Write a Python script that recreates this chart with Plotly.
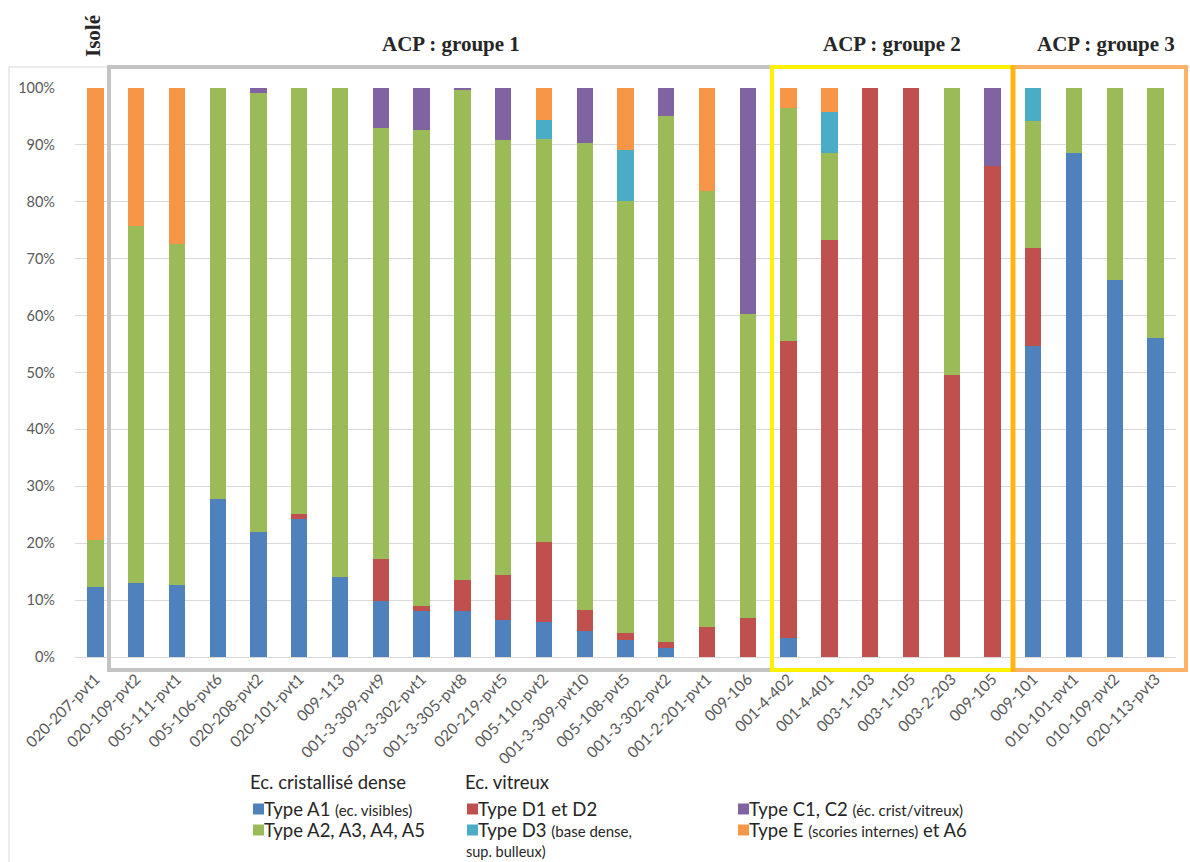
import plotly.graph_objects as go

# ---------------- data ----------------
categories = ["020-207-pvt1", "020-109-pvt2", "005-111-pvt1", "005-106-pvt6", "020-208-pvt2",
              "020-101-pvt1", "009-113", "001-3-309-pvt9", "001-3-302-pvt1", "001-3-305-pvt8",
              "020-219-pvt5", "005-110-pvt2", "001-3-309-pvt10", "005-108-pvt5", "001-3-302-pvt2",
              "001-2-201-pvt1", "009-106", "001-4-402", "001-4-401", "003-1-103", "003-1-105",
              "003-2-203", "009-105", "009-101", "010-101-pvt1", "010-109-pvt2", "020-113-pvt3"]

type_a1 = [12.3, 13.0, 12.7, 27.8, 22.0, 24.2, 14.0, 9.9, 8.1, 8.1, 6.5, 6.1, 4.5, 3.0, 1.6, 0, 0,
           3.4, 0, 0, 0, 0, 0, 54.6, 88.5, 66.2, 56.1]
type_d1_d2 = [0, 0, 0, 0, 0, 1.0, 0, 7.4, 0.9, 5.5, 7.9, 14.1, 3.8, 1.3, 1.1, 5.3, 6.8,
              52.2, 73.3, 100, 100, 49.6, 86.3, 17.3, 0, 0, 0]
type_a2_a5 = [8.2, 62.8, 59.8, 72.2, 77.1, 74.8, 86.0, 75.7, 83.6, 86.0, 76.4, 70.8, 82.1, 75.9, 92.4,
              76.6, 53.4, 40.9, 15.3, 0, 0, 50.4, 0, 22.3, 11.5, 33.8, 43.9]
type_d3 = [0, 0, 0, 0, 0, 0, 0, 0, 0, 0, 0, 3.3, 0, 8.9, 0, 0, 0, 0, 7.1, 0, 0, 0, 0, 5.8, 0, 0, 0]
type_c1_c2 = [0, 0, 0, 0, 0.9, 0, 0, 7.0, 7.4, 0.4, 9.2, 0, 9.6, 0, 4.9, 0, 39.8, 0, 0, 0, 0, 0,
              13.7, 0, 0, 0, 0]
type_e_a6 = [79.5, 24.2, 27.5, 0, 0, 0, 0, 0, 0, 0, 0, 5.7, 0, 10.9, 0, 18.1, 0, 3.5, 4.3, 0, 0, 0,
             0, 0, 0, 0, 0]

y_ticks = [0, 10, 20, 30, 40, 50, 60, 70, 80, 90, 100]

series = [
    ("Type A1", type_a1, "#4F81BD"),
    ("Type D1 et D2", type_d1_d2, "#C0504D"),
    ("Type A2, A3, A4, A5", type_a2_a5, "#9BBB59"),
    ("Type D3", type_d3, "#4BACC6"),
    ("Type C1, C2", type_c1_c2, "#8064A2"),
    ("Type E et A6", type_e_a6, "#F79646"),
]

# ---------------- layout geometry (page pixels) ----------------
W, H = 1190, 862
PL, PR, PT, PB = 75, 1176, 88, 657  # plot area


def X(px):
    return (px - PL) / (PR - PL)


def Y(py):
    return (PB - py) / (PB - PT)


fig = go.Figure()
for name, vals, col in series:
    fig.add_trace(go.Bar(x=categories, y=vals, name=name, marker=dict(color=col, line=dict(width=0)),
                         showlegend=False, hoverinfo="skip"))

shapes = []
# outer chart frame
shapes.append(dict(type="rect", xref="paper", yref="paper", x0=X(9), x1=X(1300), y0=Y(950), y1=Y(67),
                   line=dict(color="#D9D9D9", width=1), layer="below"))
# group boxes
shapes.append(dict(type="rect", xref="paper", yref="paper", x0=X(109), x1=X(772), y0=Y(670), y1=Y(67),
                   line=dict(color="#C4C4C4", width=4)))
shapes.append(dict(type="rect", xref="paper", yref="paper", x0=X(772), x1=X(1013), y0=Y(670), y1=Y(67),
                   line=dict(color="#FFF200", width=4)))
shapes.append(dict(type="rect", xref="paper", yref="paper", x0=X(1013), x1=X(1186), y0=Y(670), y1=Y(67),
                   line=dict(color="#FBB266", width=4)))
shapes.append(dict(type="line", xref="paper", yref="paper", x0=X(1013), x1=X(1013), y0=Y(672), y1=Y(65),
                   line=dict(color="#FDB515", width=5)))

annotations = []
title_font = dict(family="Liberation Serif", size=21, color="#262626")
annotations.append(dict(xref="paper", yref="paper", x=X(451), y=Y(44), text="<b>ACP : groupe 1</b>",
                        showarrow=False, font=title_font, xanchor="center", yanchor="middle"))
annotations.append(dict(xref="paper", yref="paper", x=X(892), y=Y(44), text="<b>ACP : groupe 2</b>",
                        showarrow=False, font=title_font, xanchor="center", yanchor="middle"))
annotations.append(dict(xref="paper", yref="paper", x=X(1106), y=Y(44), text="<b>ACP : groupe 3</b>",
                        showarrow=False, font=title_font, xanchor="center", yanchor="middle"))
annotations.append(dict(xref="paper", yref="paper", x=X(93), y=Y(36), text="<b>Isolé</b>", textangle=-90,
                        showarrow=False, font=title_font, xanchor="center", yanchor="middle"))

# ---------------- manual legend ----------------
LF = "Lato"
big = 18.5
small = 15
txt_col = "#262626"


def leg_text(px, py, text, size=big):
    annotations.append(dict(xref="paper", yref="paper", x=X(px), y=Y(py), text=text, showarrow=False,
                            xanchor="left", yanchor="middle", align="left", borderpad=0, borderwidth=0,
                            font=dict(family=LF, size=size, color=txt_col)))


def leg_square(px, py, col):
    shapes.append(dict(type="rect", xref="paper", yref="paper", x0=X(px), x1=X(px + 11),
                       y0=Y(py + 5.5), y1=Y(py - 5.5), fillcolor=col, line=dict(width=0)))


def sm(t):
    return f"<span style='font-size:{small}px'>{t}</span>"


leg_text(250, 782, "Ec. cristallisé dense")
leg_text(465, 782, "Ec. vitreux")

leg_square(253, 809, "#4F81BD")
leg_text(264, 809, "Type A1 " + sm("(ec. visibles)"))
leg_square(253, 830, "#9BBB59")
leg_text(264, 830, "Type A2, A3, A4, A5")

leg_square(467, 809, "#C0504D")
leg_text(478, 809, "Type D1 et D2")
leg_square(467, 830, "#4BACC6")
leg_text(478, 830, "Type D3 " + sm("(base dense,"))
leg_text(466, 851.5, "sup. bulleux)", size=14.5)

leg_square(738, 809, "#8064A2")
leg_text(749, 809, "Type C1, C2 " + sm("(éc. crist/vitreux)"))
leg_square(738, 830, "#F79646")
leg_text(749, 830, "Type E " + sm("(scories internes)") + " et A6")

fig.update_layout(
    width=W, height=H,
    barmode="stack",
    bargap=0.6,
    plot_bgcolor="white",
    paper_bgcolor="white",
    margin=dict(l=PL, r=W - PR, t=PT, b=H - PB, pad=0),
    shapes=shapes,
    annotations=annotations,
    font=dict(family=LF, color="#595959"),
    hovermode=False,
    xaxis=dict(
        type="category",
        tickangle=-45,
        tickfont=dict(family=LF, size=15.5, color="#595959"),
        showgrid=False,
        showline=True,
        linecolor="#D9D9D9",
        linewidth=1,
        ticks="",
        ticklabelstandoff=6,
    ),
    yaxis=dict(
        range=[0, 100],
        tickvals=y_ticks,
        ticktext=[f"{v}%" for v in y_ticks],
        tickfont=dict(family=LF, size=14.5, color="#595959"),
        showgrid=True,
        gridcolor="#D9D9D9",
        gridwidth=1,
        zeroline=False,
        showline=False,
        ticks="",
        ticklabelstandoff=19,
    ),
)

fig.write_html(
    "out.html",
    config={"displayModeBar": False},
    post_script="document.body.style.margin='0';document.body.style.overflow='hidden';",
)
